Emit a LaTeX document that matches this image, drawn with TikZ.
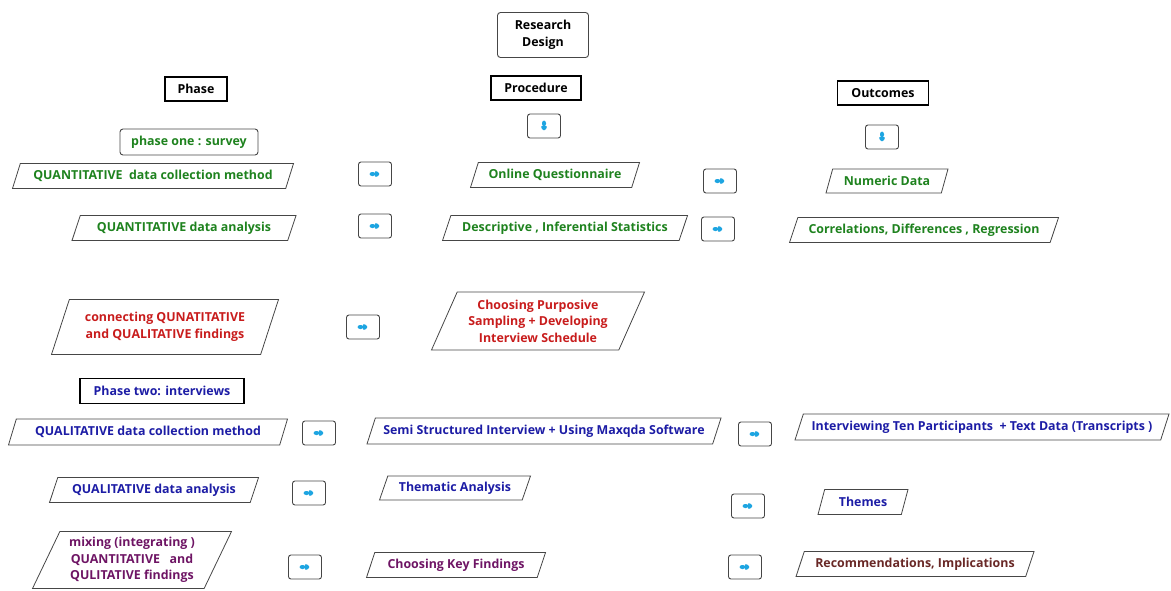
\documentclass[tikz,border=0pt]{standalone}
\usepackage{fontspec}
\setmainfont{Open Sans}
\usetikzlibrary{shapes.geometric}
\definecolor{txtgreen}{RGB}{30,130,30}
\definecolor{txtred}{RGB}{200,28,28}
\definecolor{txtblue}{RGB}{28,28,165}
\definecolor{txtpurple}{RGB}{110,20,100}
\definecolor{txtbrown}{RGB}{105,40,38}
\definecolor{arrowcyan}{RGB}{30,165,225}
\definecolor{edgegray}{RGB}{70,70,70}
\begin{document}
\begin{tikzpicture}[x=1pt,y=-1pt,
  every node/.style={font=\bfseries\fontsize{12.4}{16.5}\selectfont, inner sep=1pt},
  size/.style 2 args={minimum width=#1pt, minimum height=#2pt},
  para/.style={draw=edgegray, line width=0.8pt, trapezium,
    trapezium left angle=60, trapezium right angle=120,
    trapezium stretches body, align=center},
  header/.style={draw=black, line width=1.4pt, align=center},
  softbox/.style={draw=edgegray, line width=0.9pt, rounded corners=3pt, align=center},
  rarrow/.style={draw=edgegray, line width=0.9pt, rounded corners=2.5pt,
    minimum width=33pt, minimum height=24pt,
    path picture={
      \fill[arrowcyan] ([xshift=-5.5pt,yshift=-2pt]path picture bounding box.center)
        rectangle ++(6pt,4pt);
      \fill[arrowcyan] ([xshift=0pt,yshift=4pt]path picture bounding box.center)
        -- ++(5.5pt,-4pt) -- ++(-5.5pt,-4pt) -- cycle;}},
  darrow/.style={draw=edgegray, line width=0.9pt, rounded corners=2.5pt,
    minimum width=33pt, minimum height=24pt,
    path picture={
      \fill[arrowcyan] ([xshift=-2pt,yshift=5.5pt]path picture bounding box.center)
        rectangle ++(4pt,-6pt);
      \fill[arrowcyan] ([xshift=-4pt,yshift=0pt]path picture bounding box.center)
        -- ++(4pt,-5.5pt) -- ++(4pt,5.5pt) -- cycle;}}
]
\useasboundingbox (0,0) rectangle (1171,590);

% column headers
\node[softbox, size={91}{45}] (rd) at (543,35) {Research\\Design};
\node[header, size={62}{24}] (ph) at (196,89) {Phase};
\node[header, size={90}{24}] (pr) at (536,88) {Procedure};
\node[header, size={91}{24}] (oc) at (883,93) {Outcomes};
\node[darrow] (d1) at (544,126) {};
\node[darrow] (d2) at (882,137) {};

% phase one
\node[softbox, size={138}{26}, text=txtgreen] (p1) at (189,142) {phase one : survey};
\node[para, size={281}{25}, text=txtgreen] (q1) at (153,176) {QUANTITATIVE\ \ data collection method};
\node[rarrow] (a1) at (375,174) {};
\node[para, size={169}{25}, text=txtgreen] (oq) at (555,175) {Online Questionnaire};
\node[rarrow] (a3) at (720,181) {};
\node[para, size={122}{24}, text=txtgreen] (nd) at (887,181) {Numeric Data};

\node[para, size={224}{25}, text=txtgreen] (q2) at (184,228) {QUANTITATIVE data analysis};
\node[rarrow] (a2) at (375,226) {};
\node[para, size={245}{25}, text=txtgreen] (ds) at (565,228) {Descriptive , Inferential Statistics};
\node[rarrow] (a4) at (718,229) {};
\node[para, size={269}{25}, text=txtgreen] (cr) at (924,230) {Correlations, Differences , Regression};

% connecting step
\node[para, size={227}{55}, text=txtred] (cn) at (165,327) {connecting QUNATITATIVE\\and QUALITATIVE findings};
\node[rarrow] (a5) at (363,327) {};
\node[para, size={213}{58}, text=txtred] (cp) at (538,321) {Choosing Purposive\\Sampling + Developing\\Interview Schedule};

% phase two
\node[header, line width=1.2pt, size={164}{25}, text=txtblue] (p2) at (162,391) {Phase two: interviews};
\node[para, size={279}{26}, text=txtblue] (l1) at (148,432) {QUALITATIVE data collection method};
\node[rarrow] (a6) at (319,433) {};
\node[para, size={354}{26}, text=txtblue] (ss) at (544,431) {Semi Structured Interview + Using Maxqda Software};
\node[rarrow] (a7) at (755,434) {};
\node[para, size={374}{26}, text=txtblue] (it) at (982,427) {Interviewing Ten Participants\ \ + Text Data (Transcripts )};

\node[para, size={209}{25}, text=txtblue] (l2) at (154,490) {QUALITATIVE data analysis};
\node[rarrow] (a8) at (309,493) {};
\node[para, size={151}{24}, text=txtblue] (ta) at (455,488) {Thematic Analysis};
\node[rarrow] (a9) at (748,506) {};
\node[para, size={90}{25}, text=txtblue] (th) at (863,502) {Themes};

% mixing step
\node[para, size={199}{57}, text=txtpurple] (mx) at (132,560) {mixing (integrating )\\QUANTITATIVE\ \ \ and\\QULITATIVE findings};
\node[rarrow] (a10) at (305,567) {};
\node[para, size={179}{25}, text=txtpurple] (kf) at (456,565) {Choosing Key Findings};
\node[rarrow] (a11) at (745,567) {};
\node[para, size={238}{25}, text=txtbrown] (rc) at (915,564) {Recommendations, Implications};
\end{tikzpicture}
\end{document}
